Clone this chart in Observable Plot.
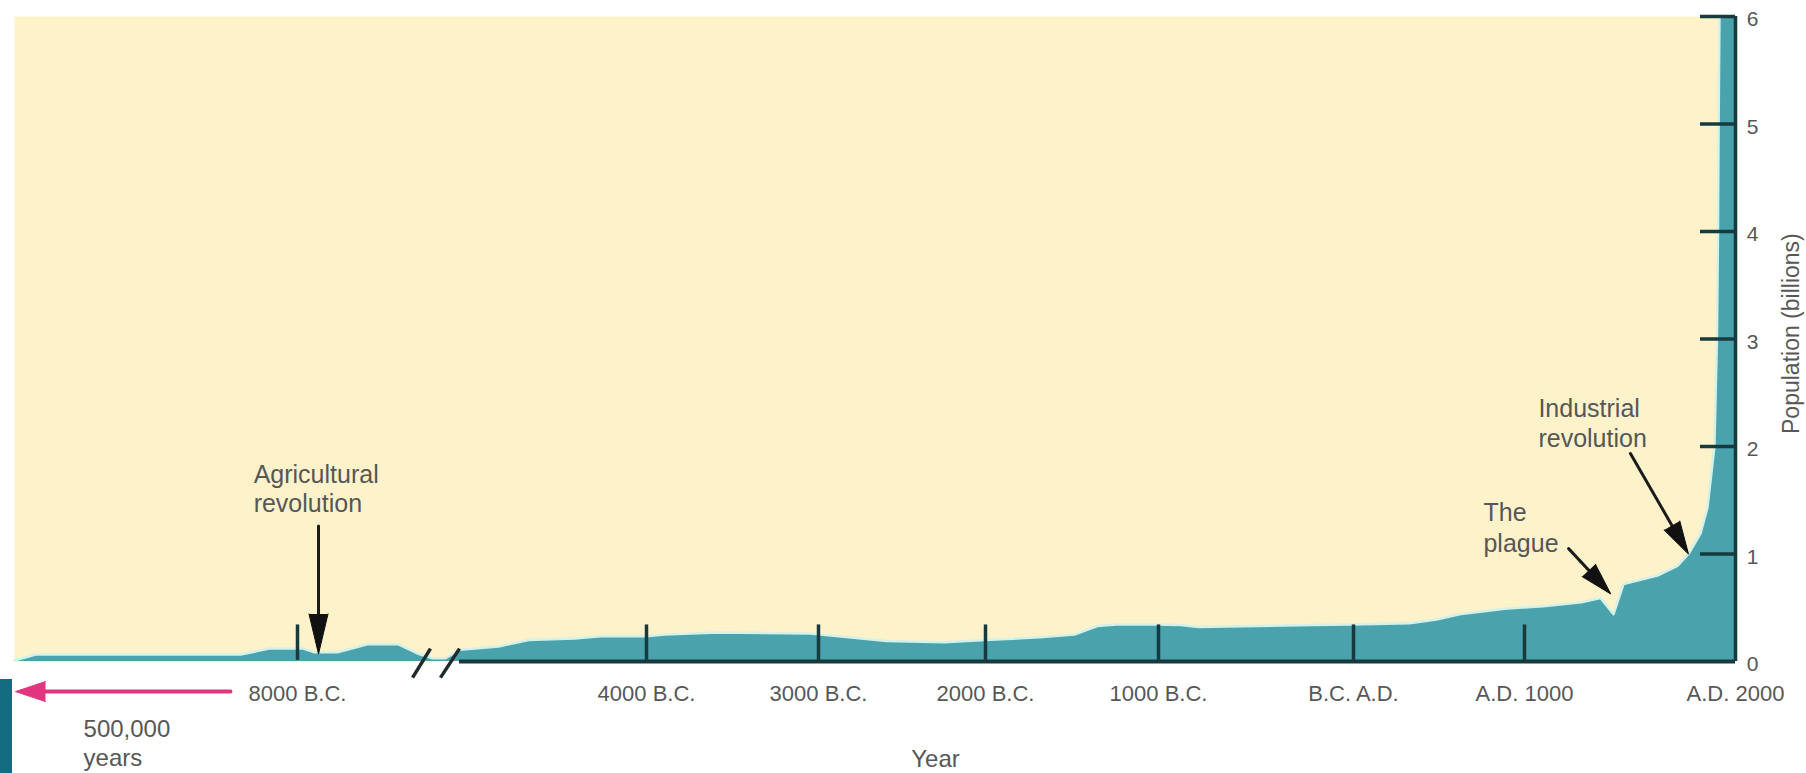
<!DOCTYPE html>
<html>
<head>
<meta charset="utf-8">
<script src="https://cdn.jsdelivr.net/npm/d3@7"></script>
<script src="https://cdn.jsdelivr.net/npm/@observablehq/plot@0.6"></script>
<style>
  body { margin: 0; background: #fff; }
  #wrap { position: relative; width: 1806px; height: 773px; overflow: hidden; background: #fff; }
  #bar { position: absolute; left: 0; top: 679px; width: 12px; height: 94px; background: #136c82; }
</style>
</head>
<body>
<div id="wrap"><div id="chart"></div><div id="bar"></div></div>
<script>
// ---- data ----
const years = [-10000, -9850, -8400, -8200, -7960, -7880, -7716, -7504, -7284, -7149, -7043, -6333,
  -5000, -4791, -4631, -4385, -4246, -4000, -3895, -3581, -3047, -2820, -2593, -2246, -2000,
  -1688, -1486, -1353, -1243, -1023, -887, -795, -205, -10, 327, 485, 620, 883, 1090, 1270,
  1360, 1422, 1469, 1630, 1725, 1777, 1834, 1867, 1900, 1912, 1917, 1920, 1924, 2000];
const population = [0.01, 0.065, 0.065, 0.12, 0.12, 0.085, 0.085, 0.16, 0.16, 0.075, 0.03, 0.03,
  0.11, 0.14, 0.2, 0.215, 0.235, 0.235, 0.25, 0.27, 0.26, 0.225, 0.19, 0.18, 0.2,
  0.225, 0.25, 0.33, 0.345, 0.345, 0.34, 0.32, 0.34, 0.345, 0.355, 0.39, 0.44, 0.49, 0.515, 0.55,
  0.59, 0.44, 0.72, 0.8, 0.89, 1.0, 1.19, 1.43, 2.0, 3.0, 4.0, 5.0, 6.0, 6.0];

const tickYears = [-8000, -4000, -3000, -2000, -1000, 0, 1000, 2000];
const tickLabels = ["8000 B.C.", "4000 B.C.", "3000 B.C.", "2000 B.C.", "1000 B.C.", "B.C. A.D.", "A.D. 1000", "A.D. 2000"];
const yTicks = [0, 1, 2, 3, 4, 5, 6];

const notes = [
  {text: "Agricultural\nrevolution", year: -8310, pop: 1.614, lh: 1.16},
  {text: "The\nplague", year: 760, pop: 1.256, lh: 1.24},
  {text: "Industrial\nrevolution", year: 1066, pop: 2.223, lh: 1.2}
];
const arrows = [
  {x1: -7851, y1: 1.26, x2: -7851, y2: 0.07},
  {x1: 1209, y1: 1.05, x2: 1408, y2: 0.63},
  {x1: 1502, y1: 1.935, x2: 1777, y2: 1.0}
];
const breakMarks = [
  {x1: -7184, y1: -0.15, x2: -7057, y2: 0.12},
  {x1: -6810, y1: -0.15, x2: -5000, y2: 0.12}
];
const pastArrow = [{x1: -8474, y1: -0.28, x2: -9993, y2: -0.28}];

// ---- styles ----
const FONT = "'Liberation Sans', Arial, Helvetica, sans-serif";
const YELLOW = "#fdf2c9", TEAL = "#49a2ac", DARK = "#173a3e", GRAY = "#575757", PINK = "#e2347f";
const arrowHead = [{rotate: 180, length: 40, r: 9.5}, {rotate: 137, length: 32, r: 9}, {rotate: 150, length: 33, r: 9}];

const data = years.map((year, i) => ({year, pop: population[i]}));
const ticks = tickYears.map((year, i) => ({year, label: tickLabels[i]}));

const plot = Plot.plot({
  width: 1806,
  height: 773,
  marginLeft: 14,
  marginRight: 71,
  marginTop: 16,
  marginBottom: 112,
  x: {
    type: "linear",
    domain: [-10000, -8000, -7000, -5000, -4000, -3000, -2000, -1000, 0, 1000, 2000],
    range: [14, 297, 438, 459, 646, 818, 985, 1158, 1353, 1524, 1735],
    axis: null
  },
  y: {domain: [0, 6], axis: null},
  style: {background: "transparent", fontFamily: FONT, overflow: "visible"},
  marks: [
    Plot.frame({fill: YELLOW, stroke: "none"}),
    Plot.areaY(data, {x: "year", y: "pop", fill: TEAL}),
    Plot.line(data, {x: "year", y: "pop", stroke: "#d3f2ea", strokeWidth: 2.5}),
    // axes lines and ticks
    Plot.ruleY([0], {x1: -5000, x2: 2000, stroke: DARK, strokeWidth: 4}),
    Plot.ruleX([2000], {y1: 0, y2: 6, stroke: DARK, strokeWidth: 3.5}),
    Plot.ruleX(tickYears.slice(0, -1), {y1: 0.01, y2: 0.34, stroke: DARK, strokeWidth: 3.5}),
    Plot.ruleY(yTicks.slice(1), {x1: 1834, x2: 2000, stroke: DARK, strokeWidth: 3.5}),
    // break marks
    Plot.link(breakMarks, {x1: "x1", y1: "y1", x2: "x2", y2: "y2", stroke: "#1f2a2c", strokeWidth: 3.5}),
    // tick labels
    Plot.text(ticks, {x: "year", y: -0.30, text: "label", fontSize: 22, fill: GRAY, fontFamily: FONT}),
    Plot.text(yTicks, {x: 2000, y: d => d, text: d => String(d), dx: 17, dy: 3, textAnchor: "middle", fontSize: 21, fill: GRAY, fontFamily: FONT}),
    Plot.text(["Population (billions)"], {x: 2000, y: 3.05, dx: 56, rotate: -90, fontSize: 23, fill: GRAY, fontFamily: FONT}),
    Plot.text(["Year"], {x: -2299, y: -0.91, fontSize: 24, fill: GRAY, fontFamily: FONT}),
    Plot.text(["500,000\nyears"], {x: -9512, y: -0.75, textAnchor: "start", lineHeight: 1.22, fontSize: 24, fill: GRAY, fontFamily: FONT}),
    // annotations
    ...notes.map(n => Plot.text([n], {x: "year", y: "pop", text: "text", textAnchor: "start", lineHeight: n.lh, fontSize: 25, fill: GRAY, fontFamily: FONT})),
    Plot.arrow(arrows, {x1: "x1", y1: "y1", x2: "x2", y2: "y2", stroke: "#1b1b1b", strokeWidth: 3, headLength: 0, insetEnd: 18}),
    ...arrows.map((a, i) => Plot.vector([a], {x: "x2", y: "y2", rotate: arrowHead[i].rotate, length: arrowHead[i].length, r: arrowHead[i].r, anchor: "end", shape: "spike", fill: "#111", stroke: "#111", strokeWidth: 1})),
    // pink arrow to the far past
    Plot.arrow(pastArrow, {x1: "x1", y1: "y1", x2: "x2", y2: "y2", stroke: PINK, strokeWidth: 4, headLength: 0, insetEnd: 20}),
    Plot.vector(pastArrow, {x: "x2", y: "y2", rotate: 270, length: 30, r: 10, anchor: "end", shape: "spike", fill: PINK, stroke: PINK, strokeWidth: 1})
  ]
});
document.getElementById("chart").appendChild(plot);
</script>
</body>
</html>
